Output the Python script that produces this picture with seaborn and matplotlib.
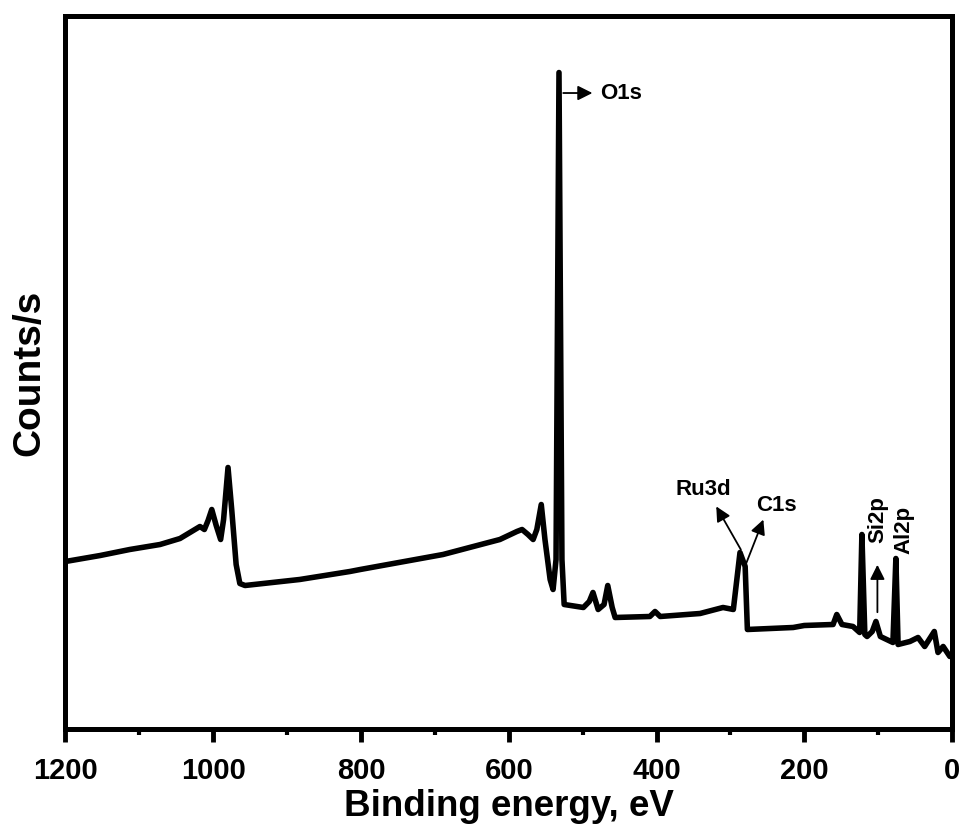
import numpy as np
import pandas as pd
import matplotlib
matplotlib.use("Agg")
import matplotlib.pyplot as plt
from matplotlib.ticker import MultipleLocator
import seaborn as sns

# spectrum (binding energy in eV, counts in arb. units)
energy = [1200, 1153, 1113, 1072, 1045, 1027, 1018, 1012, 1007, 1002, 996, 990,
          986, 980, 975, 969, 964, 957, 883, 815, 801, 689, 612, 589, 582, 574,
          567, 562, 556, 551, 544, 540, 536, 532, 528, 525, 499, 491, 486, 479,
          471, 466, 460, 456, 409, 402, 395, 341, 310, 296, 287, 280, 277, 215,
          200, 161, 156, 149, 134, 125, 122, 118, 115, 108, 103, 97, 80, 76, 73,
          57, 46, 37, 24, 19, 12, 3, 0]
counts = [16800, 17400, 18000, 18500, 19100, 19900, 20300, 20000, 20900, 22000,
          20400, 19000, 21000, 26200, 22000, 16500, 14600, 14400, 15000, 15800,
          16000, 17500, 19000, 19800, 20000, 19500, 19000, 20000, 22500, 19000,
          15000, 14000, 17000, 65700, 17000, 12500, 12200, 12800, 13700, 12000,
          12500, 14400, 12200, 11200, 11300, 11800, 11300, 11600, 12200, 12000,
          17700, 16300, 10000, 10200, 10400, 10500, 11500, 10500, 10300, 9700,
          19500, 9500, 9300, 9800, 10800, 9300, 8700, 17100, 8500, 8800, 9200,
          8300, 9800, 7700, 8300, 7300, 7500]

df = pd.DataFrame({"Binding energy": energy, "Counts": counts})

sns.set_style("ticks")
plt.rcParams["font.family"] = ["Liberation Sans", "DejaVu Sans"]
plt.rcParams["font.weight"] = "bold"
plt.rcParams["text.color"] = "black"
plt.rcParams["axes.labelcolor"] = "black"
plt.rcParams["axes.edgecolor"] = "black"
plt.rcParams["xtick.color"] = "black"
plt.rcParams["ytick.color"] = "black"

fig = plt.figure(figsize=(9.63, 8.3), dpi=100)
ax = fig.add_axes([0.068, 0.1211, 0.9206, 0.8602])

sns.lineplot(data=df, x="Binding energy", y="Counts", color="black", lw=4, ax=ax)

ax.set_xlim(1200, 0)
ax.set_ylim(0, 71400)
ax.set_yticks([])
ax.xaxis.set_major_locator(MultipleLocator(200))
ax.xaxis.set_minor_locator(MultipleLocator(100))
ax.tick_params(axis="x", which="major", length=9.5, width=3.5, direction="out",
               labelsize=21, pad=10)
ax.tick_params(axis="x", which="minor", length=4.5, width=3, direction="out")
for s in ax.spines.values():
    s.set_linewidth(3.6)
ax.set_xlabel("Binding energy, eV", fontsize=26.5, fontweight="bold", labelpad=3)
ax.set_ylabel("Counts/s", fontsize=28, fontweight="bold", labelpad=13)

arrow = dict(arrowstyle="-|>", color="black", lw=1.3, mutation_scale=22)

# peak labels
ax.annotate("", xy=(483, 63650), xytext=(530, 63650), arrowprops=arrow)
ax.text(476, 63650, "O1s", fontsize=16, fontweight="bold", va="center", ha="left")

ax.annotate("", xy=(321, 22550), xytext=(284, 17750), arrowprops=arrow)
ax.text(337, 23950, "Ru3d", fontsize=16, fontweight="bold", va="center", ha="center")

ax.annotate("", xy=(254, 21250), xytext=(280, 16350), arrowprops=arrow)
ax.text(238, 22350, "C1s", fontsize=16, fontweight="bold", va="center", ha="center")

ax.annotate("", xy=(101, 16750), xytext=(101, 11450), arrowprops=arrow)
ax.text(101, 20950, "Si2p", fontsize=16, fontweight="bold", va="center",
        ha="center", rotation=90)
ax.text(65, 19950, "Al2p", fontsize=16, fontweight="bold", va="center",
        ha="center", rotation=90)

fig.savefig("out.png", dpi=100)
